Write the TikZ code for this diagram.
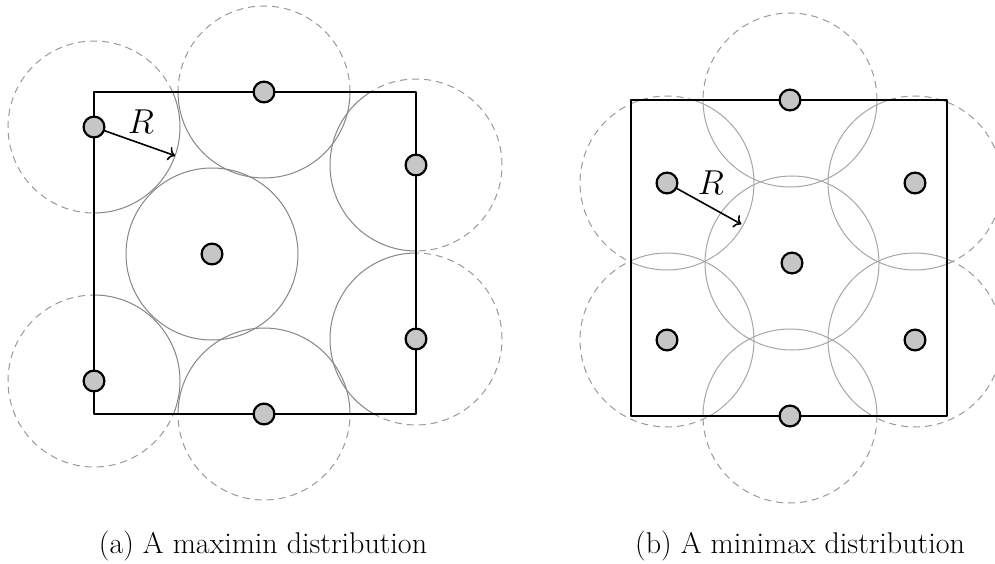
\documentclass[tikz,border=0pt]{standalone}
\usepackage{amsmath, amssymb}
\usepackage{tikz}
\usetikzlibrary{calc}
\usepackage{tkz-euclide}

\begin{document}
\begin{tikzpicture}[x=50pt, y=50pt,
    ghost/.style={gray!80, line width=0.5pt, dash pattern=on 3.5pt off 2.5pt},
    ring/.style={gray!95, line width=0.5pt},
    site/.style={circle, draw=black, line width=1.1pt, fill=gray!45, inner sep=0pt, minimum size=10.4pt},
    radius arrow/.style={->, line width=0.8pt},
    caption/.style={anchor=base, font=\fontsize{15}{18}\selectfont}]
            \useasboundingbox (0,0) rectangle (9.95,5.63);
            % (a) maximin
            \tkzDefPoints{0.94/1.49/A, 4.16/1.49/B, 4.16/4.71/C, 0.94/4.71/D}
            \tkzDefPoints{0.94/4.36/P1, 2.64/4.71/P2, 4.16/3.98/P3, 2.12/3.09/P4, 4.16/2.24/P5, 2.64/1.49/P6, 0.94/1.82/P7}
            % (b) minimax
            \tkzDefPoints{6.31/1.47/E, 9.47/1.47/F, 9.47/4.63/G, 6.31/4.63/H}
            \tkzDefPoints{7.90/4.63/Q1, 6.67/3.80/Q2, 9.15/3.80/Q3, 7.92/3.00/Q4, 6.67/2.23/Q5, 9.15/2.23/Q6, 7.90/1.47/Q7}
            % dashed parts outside the squares
            \foreach \p in {P1,P2,P3,P4,P5,P6,P7} \draw[ghost] (\p) circle (0.86);
            \foreach \p in {Q1,Q2,Q3,Q4,Q5,Q6,Q7} \draw[ghost] (\p) circle (0.87);
            \fill[white] (A) rectangle (C);
            \fill[white] (E) rectangle (G);
            % solid parts inside
            \begin{scope}
                \clip (A) rectangle (C);
                \foreach \p in {P1,P2,P3,P4,P5,P6,P7} \draw[ring] (\p) circle (0.86);
            \end{scope}
            \begin{scope}
                \clip (E) rectangle (G);
                \foreach \p in {Q1,Q2,Q3,Q4,Q5,Q6,Q7} \draw[ring, gray!70] (\p) circle (0.87);
            \end{scope}
            \tkzDrawPolygon[black, line width=1.3pt](A,B,C,D)
            \tkzDrawPolygon[black, line width=1.3pt](E,F,G,H)
            \draw[radius arrow] (P1) -- ++(-19.5:0.86);
            \draw[radius arrow] (Q2) -- ++(-29:0.85);
            \foreach \p in {P1,P2,P3,P4,P5,P6,P7} \node[site] at (\p) {};
            \foreach \p in {Q1,Q2,Q3,Q4,Q5,Q6,Q7} \node[site] at (\p) {};
            \node[font=\fontsize{17.5}{20}\selectfont] (ra) at (1.41, 4.41) {$R$};
            \node[font=\fontsize{17.5}{20}\selectfont] (rb) at (7.11, 3.80) {$R$};
            \node[caption] (capa) at (2.63, 0.10) {(a) A maximin distribution};
            \node[caption] (capb) at (8.00, 0.10) {(b) A minimax distribution};
        \end{tikzpicture}
\end{document}
